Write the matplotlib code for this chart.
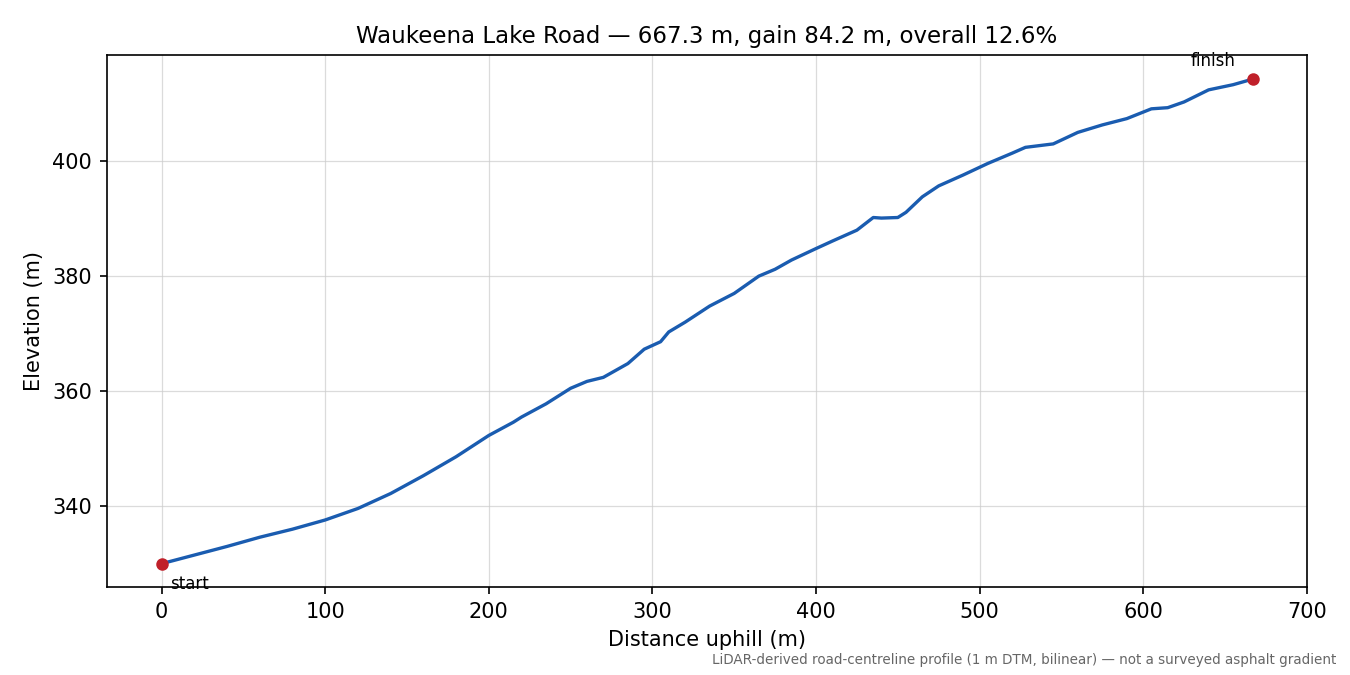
import matplotlib
matplotlib.use("Agg")
import matplotlib.pyplot as plt

distance = [0, 20, 40, 60, 80, 100, 120, 140, 160, 180, 200, 215, 220, 235, 250, 260, 270, 285, 295, 305, 310, 320, 335, 350, 365, 375, 385, 400, 410, 425, 435, 440, 450, 455, 465, 475, 490, 505, 520, 528, 545, 560, 575, 590, 605, 615, 625, 640, 655, 667.3]
elevation = [330.0, 331.5, 333.0, 334.6, 336.0, 337.6, 339.6, 342.2, 345.3, 348.6, 352.3, 354.6, 355.5, 357.8, 360.5, 361.7, 362.4, 364.8, 367.3, 368.6, 370.3, 372.0, 374.8, 377.0, 380.0, 381.2, 382.8, 384.8, 386.1, 388.0, 390.2, 390.1, 390.2, 391.1, 393.8, 395.7, 397.6, 399.6, 401.4, 402.4, 403.0, 405.0, 406.3, 407.4, 409.1, 409.3, 410.3, 412.4, 413.3, 414.3]

fig, ax = plt.subplots(figsize=(9, 4.5), dpi=150)
fig.subplots_adjust(left=0.079, right=0.968, top=0.918, bottom=0.130)
ax.plot(distance, elevation, color="#1a5cb0", lw=1.6)
ax.plot([distance[0], distance[-1]], [elevation[0], elevation[-1]], "o", color="#c0202a", ms=5)
ax.annotate("start", (distance[0], elevation[0]), xytext=(4, -12), textcoords="offset points", fontsize=8)
ax.annotate("finish", (distance[-1], elevation[-1]), xytext=(-30, 6), textcoords="offset points", fontsize=8)
ax.set_xlim(-33.6, 700)
ax.set_ylim(325.9, 418.4)
ax.set_yticks([340, 360, 380, 400])
ax.grid(True, color="#cccccc", lw=0.6, alpha=0.7)
ax.set_xlabel("Distance uphill (m)")
ax.set_ylabel("Elevation (m)")
ax.set_title("Waukeena Lake Road — 667.3 m, gain 84.2 m, overall 12.6%", fontsize=11)
fig.text(0.99, 0.012, "LiDAR-derived road-centreline profile (1 m DTM, bilinear) — not a surveyed asphalt gradient",
         ha="right", va="bottom", fontsize=6.5, color="#666666")
fig.savefig("out.png")
